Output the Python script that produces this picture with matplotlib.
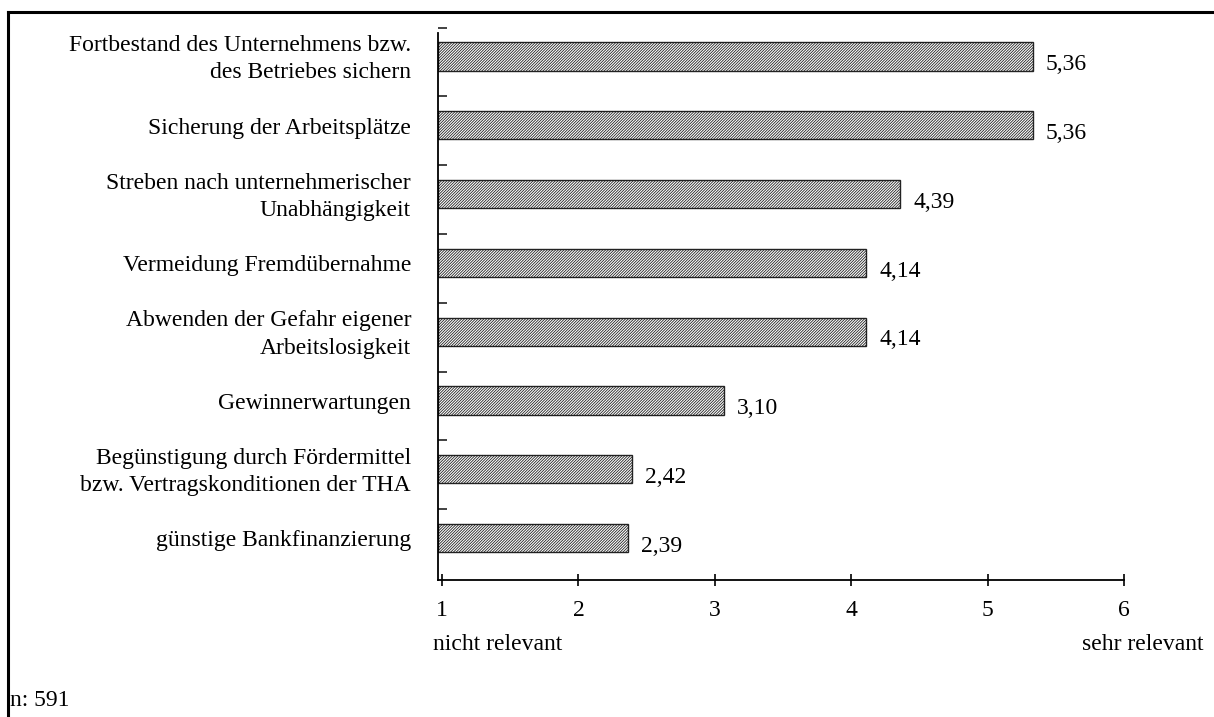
import matplotlib
matplotlib.use("Agg")
import matplotlib.pyplot as plt
from matplotlib.transforms import blended_transform_factory

plt.rcParams['font.family'] = ['Liberation Serif', 'DejaVu Serif']
plt.rcParams['hatch.color'] = '#444444'
plt.rcParams['hatch.linewidth'] = 0.6

categories = [
    "Fortbestand des Unternehmens bzw.\ndes Betriebes sichern",
    "Sicherung der Arbeitsplätze",
    "Streben nach unternehmerischer\nUnabhängigkeit",
    "Vermeidung Fremdübernahme",
    "Abwenden der Gefahr eigener\nArbeitslosigkeit",
    "Gewinnerwartungen",
    "Begünstigung durch Fördermittel\nbzw. Vertragskonditionen der THA",
    "günstige Bankfinanzierung",
]
values = [5.36, 5.36, 4.39, 4.14, 4.14, 3.10, 2.42, 2.39]
value_labels = ["5,36", "5,36", "4,39", "4,14", "4,14", "3,10", "2,42", "2,39"]
scale_ticks = [1, 2, 3, 4, 5, 6]
scale_low = "nicht relevant"
scale_high = "sehr relevant"
sample_note = "n: 591"

FS = 17
W, H, DPI = 1214, 717, 100
fig = plt.figure(figsize=(W / DPI, H / DPI), dpi=DPI)

# axes geometry in pixels
x0_px, unit_px = 438.0, 136.38
xmin, xmax = 1.0, 6.06
c0_px, step_px = 56.5, 68.8
ymin_i, ymax_i = -0.45, 7.609
left = x0_px / W
width = (xmax - xmin) * unit_px / W
top_px = c0_px + step_px * ymin_i
bot_px = c0_px + step_px * ymax_i
ax = fig.add_axes([left, 1 - bot_px / H, width, (bot_px - top_px) / H])

pos = list(range(len(categories)))
base = scale_ticks[0]
ax.barh(pos, [v - base for v in values], left=base, height=0.41,
        color='white', edgecolor='#222222', linewidth=1.0, hatch='////////////')

for p, v, t in zip(pos, values, value_labels):
    ax.text(v + 0.095, p + 0.12, t, ha='left', va='center', fontsize=FS)

ax.set_xlim(xmin, xmax)
ax.set_ylim(ymax_i, ymin_i)

for s in ['top', 'right']:
    ax.spines[s].set_visible(False)
ax.spines['left'].set_bounds(ymax_i, -0.342)
ax.spines['bottom'].set_bounds(xmin, 6.03)
for s in ['left', 'bottom']:
    ax.spines[s].set_linewidth(1.3)
    ax.spines[s].set_color('black')

ax.set_xticks([k + 0.03 for k in scale_ticks])
ax.set_xticklabels([str(k) for k in scale_ticks], fontsize=FS)
ax.tick_params(axis='x', direction='inout', length=9, width=1.2, pad=10)

ax.set_yticks([p - 0.42 for p in pos])
ax.set_yticklabels([])
ax.tick_params(axis='y', direction='in', length=6.5, width=1.3, color='#333333')

label_tr = blended_transform_factory(fig.transFigure, ax.transData)
for p, c in zip(pos, categories):
    ax.text(411 / W, p + 0.04, c, transform=label_tr,
            ha='right', va='center', fontsize=FS, linespacing=1.4)

fig.text(433 / W, 1 - 645 / H, scale_low, ha='left', va='center', fontsize=FS)
fig.text(1203 / W, 1 - 645 / H, scale_high, ha='right', va='center', fontsize=FS)
fig.text(10 / W, 1 - 700 / H, sample_note, ha='left', va='center', fontsize=FS)

# outer frame (top and left edges)
fig.add_artist(plt.Line2D([8 / W, 1.0], [1 - 12 / H, 1 - 12 / H], transform=fig.transFigure,
                          color='black', linewidth=2.2))
fig.add_artist(plt.Line2D([8 / W, 8 / W], [1 - 12 / H, 0.0], transform=fig.transFigure,
                          color='black', linewidth=2.2))

fig.savefig("out.png", dpi=DPI)
